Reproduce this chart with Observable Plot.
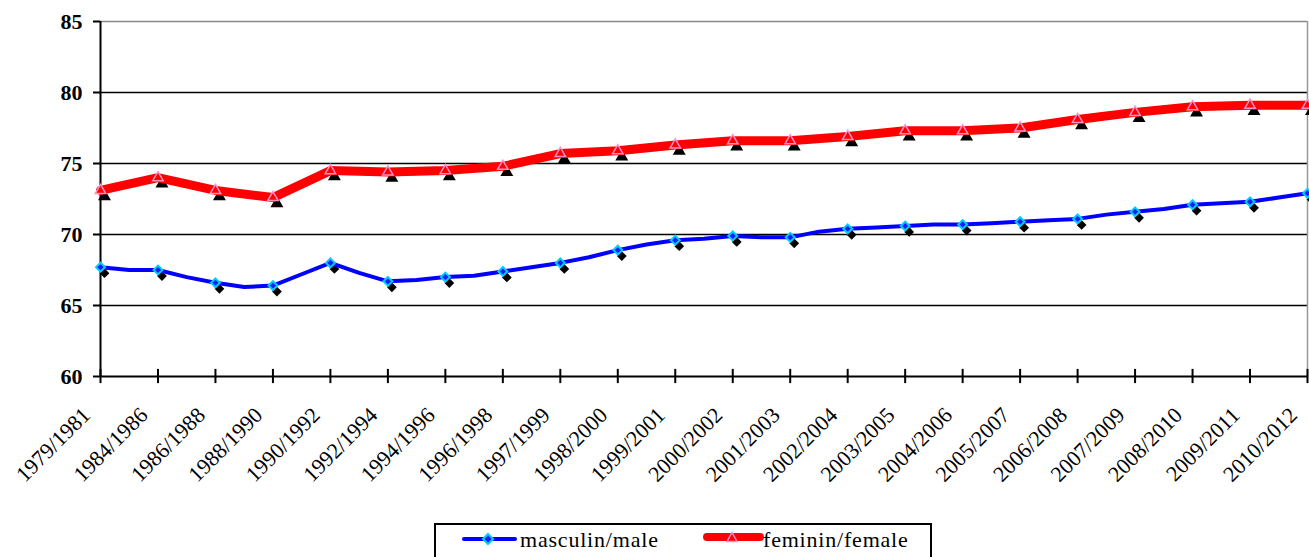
<!DOCTYPE html>
<html>
<head>
<meta charset="utf-8">
<script src="https://cdn.jsdelivr.net/npm/d3@7"></script>
<script src="https://cdn.jsdelivr.net/npm/@observablehq/plot@0.6"></script>
<style>
  html, body { margin: 0; padding: 0; background: white; }
  #wrap { position: relative; width: 1309px; height: 557px; overflow: hidden; }
  #legend { position: absolute; left: 434px; top: 523px; width: 494px; height: 40px;
    border: 2px solid black; background: white; font-family: "Liberation Serif", serif;
    font-size: 22px; letter-spacing: 0.8px; }
  #legend svg { position: absolute; top: 0; left: 0; }
  #legend span { position: absolute; top: 2px; white-space: nowrap; }
</style>
</head>
<body>
<div id="wrap">
  <div id="chart"></div>
  <div id="legend">
    <svg width="494" height="40">
      <line x1="28" y1="14" x2="79" y2="14" stroke="#0000ff" stroke-width="4" stroke-linecap="round"/>
      <path transform="translate(52,14)" d="M0,-5L5,0L0,5L-5,0Z" fill="#1a1aff" stroke="#00ccff" stroke-width="2"/>
      <line x1="271" y1="12" x2="324" y2="12" stroke="#ff0000" stroke-width="8" stroke-linecap="round"/>
      <path transform="translate(296,13)" d="M0,-5.5L5,3.5L-5,3.5Z" fill="#ff0000" stroke="#ff8fc8" stroke-width="1.5"/>
    </svg>
    <span id="l1" style="left:84px">masculin/male</span>
    <span id="l2" style="left:327px">feminin/female</span>
  </div>
</div>
<script>
const labels = ["1979/1981","1984/1986","1986/1988","1988/1990","1990/1992","1992/1994","1994/1996",
  "1996/1998","1997/1999","1998/2000","1999/2001","2000/2002","2001/2003","2002/2004","2003/2005",
  "2004/2006","2005/2007","2006/2008","2007/2009","2008/2010","2009/2011","2010/2012"];
const male = [67.7, 67.5, 66.6, 66.4, 68.0, 66.7, 67.0, 67.4, 68.0, 68.9, 69.6, 69.9, 69.8, 70.4,
  70.6, 70.7, 70.9, 71.1, 71.6, 72.1, 72.3, 72.9];
// values the male curve passes through halfway between the labelled points
const maleMid = [67.5, 67.0, 66.3, 67.2, 67.3, 66.8, 67.1, 67.7, 68.4, 69.3, 69.7, 69.8, 70.2,
  70.5, 70.7, 70.8, 71.0, 71.4, 71.8, 72.2, 72.6];
const female = [73.1, 74.0, 73.1, 72.6, 74.5, 74.4, 74.5, 74.8, 75.7, 75.9, 76.3, 76.6, 76.6, 76.9,
  77.3, 77.3, 77.5, 78.1, 78.6, 79.0, 79.1, 79.1];
const yTicks = [60, 65, 70, 75, 80, 85];
const series = ["masculin/male", "feminin/female"];

document.getElementById("l1").textContent = series[0];
document.getElementById("l2").textContent = series[1];

const idx = d3.range(labels.length);
const maleLine = [];
male.forEach((v, i) => {
  maleLine.push({x: i, y: v});
  if (i < maleMid.length) maleLine.push({x: i + 0.5, y: maleMid[i]});
});
const malePts = male.map((v, i) => ({x: i, y: v}));
const femPts = female.map((v, i) => ({x: i, y: v}));

const chart = Plot.plot({
  width: 1309, height: 520,
  marginLeft: 100, marginRight: 2, marginTop: 21, marginBottom: 144,
  x: {domain: [0, labels.length - 1], axis: null},
  y: {domain: [60, 85], axis: null},
  style: {fontFamily: "Liberation Serif, serif", background: "white", color: "black"},
  marks: [
    Plot.ruleY(yTicks.slice(1, -1), {stroke: "black", strokeWidth: 1.5}),
    Plot.ruleY(yTicks.slice(-1), {stroke: "#888", strokeWidth: 1.5}),
    Plot.ruleX([labels.length - 1], {stroke: "#999", strokeWidth: 1.5}),
    Plot.ruleX([0], {stroke: "black", strokeWidth: 2}),
    Plot.ruleY([60], {stroke: "black", strokeWidth: 2}),
    Plot.axisY({ticks: yTicks, label: null, tickSize: 7, tickPadding: 11, fontSize: 22, fontWeight: "bold",
      strokeWidth: 2, tickFormat: d => String(d)}),
    Plot.ruleX(idx, {x: d => d, y1: 59.5, y2: 60.5, stroke: "black", strokeWidth: 2}),
    Plot.text(labels, {x: (d, i) => i, y: () => 60, rotate: -45, textAnchor: "end", lineAnchor: "middle",
      dx: -14, dy: 35, fontSize: 22, fill: "black"}),
    Plot.dot(femPts, {x: "x", y: "y", symbol: "triangle", r: 4.8, fill: "black", dx: 4, dy: 6}),
    Plot.dot(malePts, {x: "x", y: "y", symbol: "diamond2", r: 4.4, fill: "black", dx: 4, dy: 6}),
    Plot.line(maleLine, {x: "x", y: "y", stroke: "#0000ff", strokeWidth: 4, strokeLinejoin: "round"}),
    Plot.line(femPts, {x: "x", y: "y", stroke: "#ff0000", strokeWidth: 9, strokeLinejoin: "round"}),
    Plot.dot(malePts, {x: "x", y: "y", symbol: "diamond2", r: 4, fill: "#1a1aff", stroke: "#00ccff", strokeWidth: 2}),
    Plot.dot(femPts, {x: "x", y: "y", symbol: "triangle", r: 3.9, fill: "#ff0000", stroke: "#ff8fc8", strokeWidth: 1.5})
  ]
});
document.getElementById("chart").appendChild(chart);
</script>
</body>
</html>
